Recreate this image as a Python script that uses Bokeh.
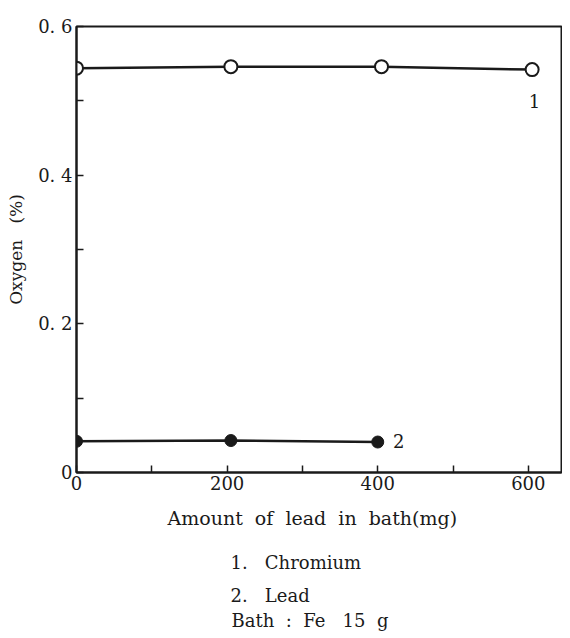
from bokeh.plotting import figure
from bokeh.models import Label, FixedTicker, Range1d, Title
from bokeh.embed import file_html
from bokeh.resources import INLINE

# data
cr_x = [0, 205, 405, 605]
cr_y = [0.544, 0.546, 0.546, 0.542]
pb_x = [0, 205, 400]
pb_y = [0.042, 0.043, 0.041]

x_ticks = [0, 100, 200, 300, 400, 500, 600]
x_labels = {0: "0", 100: "", 200: "200", 300: "", 400: "400", 500: "", 600: "600"}
y_ticks = [0, 0.1, 0.2, 0.3, 0.4, 0.5, 0.6]
y_labels = {0: "0", 0.1: "", 0.2: "0. 2", 0.3: "", 0.4: "0. 4", 0.5: "", 0.6: "0. 6"}

FONT = "DejaVu Serif"
INK = "#1a1a1a"
S = "\u00a0"

p = figure(width=562, height=630, frame_width=485, frame_height=446,
           min_border_left=76, min_border_right=1, min_border_top=26, min_border_bottom=4,
           x_range=Range1d(0, 644), y_range=Range1d(0, 0.6),
           output_backend="svg", toolbar_location=None)
p.grid.visible = False
p.outline_line_color = INK
p.outline_line_width = 2
p.background_fill_color = "white"
p.border_fill_color = "white"

for ax in (p.xaxis[0], p.yaxis[0]):
    ax.axis_line_width = 2
    ax.axis_line_color = INK
    ax.major_tick_in = 7
    ax.major_tick_out = 0
    ax.major_tick_line_width = 1.5
    ax.major_tick_line_color = INK
    ax.minor_tick_line_color = None
    ax.major_label_text_font = FONT
    ax.major_label_text_font_size = "18px"
    ax.major_label_text_color = INK

p.xaxis[0].ticker = FixedTicker(ticks=x_ticks)
p.xaxis[0].major_label_overrides = x_labels
p.xaxis[0].major_label_standoff = 3
p.yaxis[0].ticker = FixedTicker(ticks=y_ticks)
p.yaxis[0].major_label_overrides = y_labels
p.yaxis[0].major_label_standoff = 4
p.yaxis[0].axis_label = "Oxygen" + S * 3 + "(%)"
p.yaxis[0].axis_label_text_font = FONT
p.yaxis[0].axis_label_text_font_size = "17px"
p.yaxis[0].axis_label_text_font_style = "normal"
p.yaxis[0].axis_label_text_color = INK
p.yaxis[0].axis_label_standoff = 9

p.line(cr_x, cr_y, line_color=INK, line_width=2.5)
p.scatter(cr_x, cr_y, size=13, fill_color="white", line_color=INK, line_width=2)
p.line(pb_x, pb_y, line_color=INK, line_width=2.5)
p.scatter(pb_x, pb_y, size=12, fill_color=INK, line_color=INK, line_width=1)

def lab(x, y, t, align="left"):
    p.add_layout(Label(x=x, y=y, text=t, text_font=FONT, text_font_size="18px",
                       text_color=INK, text_align=align, text_baseline="middle"))

lab(608, 0.500, "1", align="center")
lab(428, 0.042, "2", align="center")

def note(t, offset, standoff, size="18px"):
    p.add_layout(Title(text=t, align="left", offset=offset, standoff=standoff,
                       text_font=FONT, text_font_size=size, text_font_style="normal",
                       text_color=INK), "below")

note(S.join(["Amount", "", "of", "", "lead", "", "in", "", "bath(mg)"]), 91, 24, "19px")
note("1." + S * 3 + "Chromium", 154, 19)
note("2." + S * 3 + "Lead", 154, 1)
note("Bath" + S * 2 + ":" + S * 2 + "Fe" + S * 3 + "15" + S * 2 + "g", 155, 3)

open("out.html", "w").write(file_html(p, INLINE))
